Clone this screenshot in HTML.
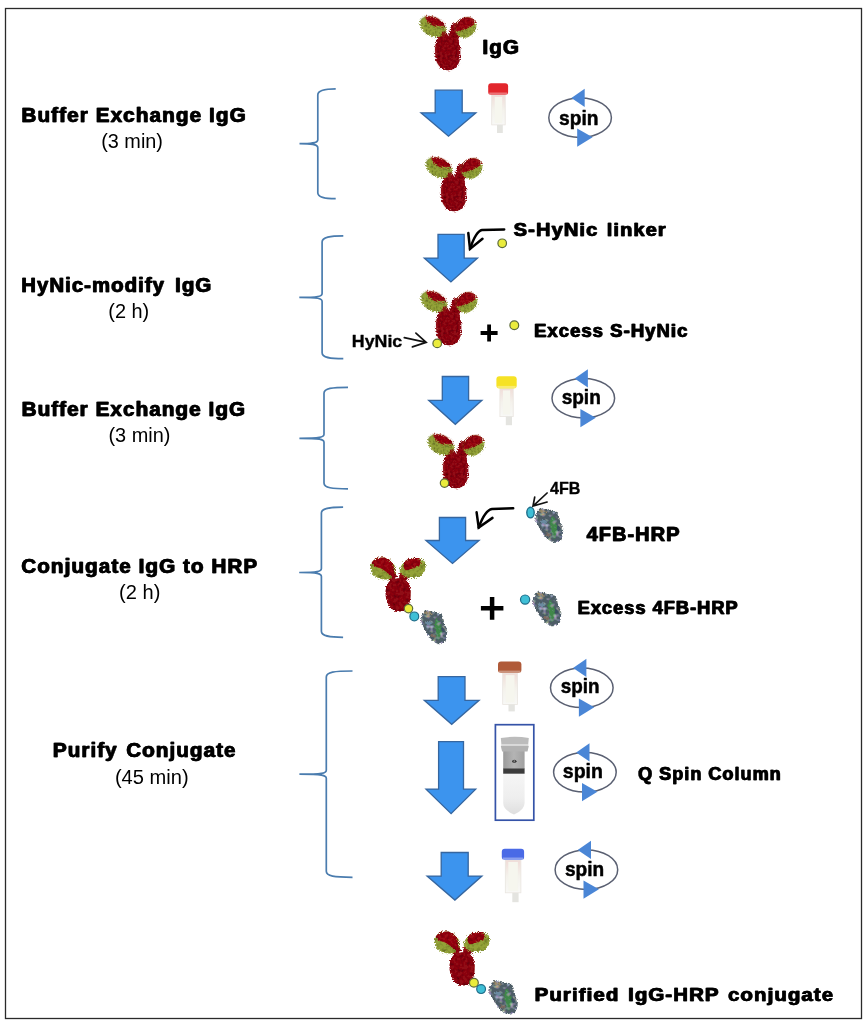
<!DOCTYPE html>
<html><head><meta charset="utf-8"><style>html,body{margin:0;padding:0;background:#fff;}svg{display:block}</style></head>
<body><svg width="868" height="1024" viewBox="0 0 868 1024">
<defs>
<linearGradient id="qwhite" x1="0" y1="0" x2="0" y2="1"><stop offset="0" stop-color="#f6f6f6"/><stop offset="0.6" stop-color="#eeeeee"/><stop offset="1" stop-color="#dedede"/></linearGradient><linearGradient id="qgrey" x1="0" y1="0" x2="1" y2="0"><stop offset="0" stop-color="#9a9a9a"/><stop offset="0.5" stop-color="#b4b4b4"/><stop offset="1" stop-color="#a0a0a0"/></linearGradient>
<linearGradient id="tubeg" x1="0" y1="0" x2="0" y2="1"><stop offset="0" stop-color="#f0dcd8"/><stop offset="0.5" stop-color="#f4f2ec"/><stop offset="1" stop-color="#f8f8f6"/></linearGradient>
<filter id="rough" x="-10%" y="-10%" width="120%" height="120%" filterUnits="objectBoundingBox" primitiveUnits="userSpaceOnUse">
 <feTurbulence type="fractalNoise" baseFrequency="0.07" numOctaves="3" seed="3" result="n"/>
 <feDisplacementMap in="SourceGraphic" in2="n" scale="55" xChannelSelector="R" yChannelSelector="G" result="d"/>
 <feTurbulence type="fractalNoise" baseFrequency="0.03" numOctaves="2" seed="9" result="t"/>
 <feColorMatrix in="t" type="matrix" values="0 0 0 0 0  0 0 0 0 0  0 0 0 0 0  0 0 0 -1.3 0.75" result="c"/>
 <feComposite in="c" in2="d" operator="in" result="tex"/>
 <feMerge><feMergeNode in="d"/><feMergeNode in="tex"/></feMerge>
</filter>
<clipPath id="clL"><ellipse cx="240" cy="221" rx="185" ry="128" transform="rotate(26 240 221)"/></clipPath>
<clipPath id="clR"><ellipse cx="675" cy="232" rx="150" ry="128" transform="rotate(-40 675 232)"/></clipPath>
<g id="ab0">
 <path d="M330,350 C400,318 520,318 568,380 C605,430 612,560 600,650 C587,740 520,805 440,805 C360,800 295,740 276,650 C260,560 263,440 293,390 C303,370 315,358 330,350 Z" fill="#900e15"/>
 <path d="M320,300 C370,290 430,320 470,360 L440,420 C380,410 330,380 300,340 Z" fill="#900e15"/>
 <path d="M480,210 C500,170 560,160 590,200 C615,260 605,340 570,400 L465,415 C450,340 460,260 480,210 Z" fill="#900e15"/>
 <ellipse cx="240" cy="221" rx="185" ry="128" transform="rotate(26 240 221)" fill="#93a237"/>
 <g clip-path="url(#clL)">
  <path d="M110,40 L380,40 L460,240 C400,225 340,215 280,215 C220,210 180,180 150,130 Z" fill="#9a1018"/>
  <path d="M360,300 L460,250 L460,380 L330,380 Z" fill="#900e15"/>
 </g>
 <ellipse cx="675" cy="232" rx="150" ry="128" transform="rotate(-40 675 232)" fill="#93a237"/>
 <g clip-path="url(#clR)">
  <path d="M520,60 L850,60 L820,170 C760,220 680,250 600,280 L520,300 Z" fill="#9a1018"/>
 </g>
</g>
<g id="ab"><use href="#ab0" filter="url(#rough)"/></g>
<g id="abB0">
 <path d="M300,275 C360,265 420,290 435,350 C450,420 440,520 400,570 C370,600 300,600 260,570 C205,520 185,430 205,350 C220,300 260,280 300,275 Z" fill="#900e15"/>
 <path d="M190,150 C240,140 290,190 310,260 L250,300 C220,260 190,210 190,150 Z" fill="#900e15"/>
 <path d="M55,160 C60,100 110,70 170,72 C230,75 270,110 290,160 C300,220 280,275 220,285 C150,290 80,260 60,210 Z" fill="#93a237"/>
 <path d="M65,120 C90,80 140,68 190,75 C240,85 270,120 275,160 C285,200 290,240 270,270 C230,230 180,180 130,170 C95,160 70,140 65,120 Z" fill="#9a1018"/>
 <path d="M330,230 C350,200 400,190 420,220 L410,290 L330,290 Z" fill="#900e15"/>
 <path d="M335,200 C345,130 400,80 470,75 C540,72 585,110 585,160 C585,220 540,265 470,270 C400,272 340,250 335,200 Z" fill="#93a237"/>
 <path d="M375,120 C400,85 450,72 500,78 C530,85 545,110 535,140 C500,170 440,190 390,195 C370,175 365,145 375,120 Z" fill="#9a1018"/>
</g>
<filter id="roughB" x="-10%" y="-10%" width="120%" height="120%" primitiveUnits="userSpaceOnUse">
 <feTurbulence type="fractalNoise" baseFrequency="0.1" numOctaves="2" seed="5" result="n"/>
 <feDisplacementMap in="SourceGraphic" in2="n" scale="42" xChannelSelector="R" yChannelSelector="G" result="d"/>
 <feTurbulence type="fractalNoise" baseFrequency="0.03" numOctaves="2" seed="13" result="t"/>
 <feColorMatrix in="t" type="matrix" values="0 0 0 0 0  0 0 0 0 0  0 0 0 0 0  0 0 0 -1.3 0.75" result="c"/>
 <feComposite in="c" in2="d" operator="in" result="tex"/>
 <feMerge><feMergeNode in="d"/><feMergeNode in="tex"/></feMerge>
</filter>
<g id="abB"><use href="#abB0" filter="url(#roughB)"/></g>
<filter id="rough2" x="-20%" y="-20%" width="140%" height="140%" primitiveUnits="userSpaceOnUse">
 <feTurbulence type="turbulence" baseFrequency="0.7" numOctaves="2" seed="7" result="n"/>
 <feDisplacementMap in="SourceGraphic" in2="n" scale="2.4" xChannelSelector="R" yChannelSelector="G" result="d"/>
 <feTurbulence type="fractalNoise" baseFrequency="0.28" numOctaves="1" seed="21" result="t"/>
 <feColorMatrix in="t" type="matrix" values="0.7 0 0 0 -0.05  0 0.95 0 0 -0.05  0 0 1.05 0 0  2.6 0 0 0 -1.25" result="c"/>
 <feComposite in="c" in2="d" operator="in" result="tex"/>
 <feMerge><feMergeNode in="d"/><feMergeNode in="tex"/></feMerge>
</filter>
<g id="hrp0">
 <path d="M-9,-16.7 C-5,-16 0,-14.5 7.1,-12.6 C9.5,-9 9.5,-6 10.2,-3.3 C11.5,0 13.5,3 13.3,5.5 C13,10 12.5,13 11.3,15.4 C9,17.5 7,18 4.5,18 C1.5,17 0,16 -2.2,14.4 C-4.5,12 -6.5,9.5 -7.9,7.1 C-10,3 -12.5,0 -14.2,-4.3 C-14.5,-6.5 -14,-8 -13.6,-9.5 C-12,-13 -11,-15.5 -9,-16.7 Z" fill="#4d5d66"/>
 <path d="M2,-8 C6,-6 8,0 8,6 C8,10 6,13 4,14 C2,10 1,4 0,-2 Z" fill="#3f8748"/>
 <path d="M-9,-16 C-6,-15 -3,-14 -2,-12 C-5,-11 -8,-12 -10,-13 Z" fill="#9a8a68"/>
 <ellipse cx="-6" cy="-3" rx="3" ry="2" fill="#6a8aa0"/>
 <ellipse cx="-1" cy="10" rx="2.5" ry="2" fill="#7a6a60"/>
 <ellipse cx="9" cy="3" rx="2" ry="3" fill="#3a5060"/>
</g>
<g id="hrp"><use href="#hrp0" filter="url(#rough2)"/></g>
</defs>
<rect x="5.5" y="8.5" width="856" height="1010" fill="none" stroke="#2a2a2a" stroke-width="1.3"/>
<path d="M335.7,88.9 C325.8,88.9 317.8,89.9 317.8,94.9 L317.8,139.7 C317.8,142.7 313.8,143.7 299.5,143.7 C313.8,143.7 317.8,144.7 317.8,147.7 L317.8,192.7 C317.8,197.7 325.8,198.7 335.7,198.7" fill="none" stroke="#4a7cae" stroke-width="1.7"/>
<path d="M343.3,235.9 C330.1,235.9 322.1,236.9 322.1,241.9 L322.1,293.4 C322.1,296.4 318.1,297.4 299.3,297.4 C318.1,297.4 322.1,298.4 322.1,301.4 L322.1,352.7 C322.1,357.7 330.1,358.7 343.3,358.7" fill="none" stroke="#4a7cae" stroke-width="1.7"/>
<path d="M348,387.3 C332,387.3 324,388.3 324,393.3 L324,434.3 C324,437.3 320,438.3 299.4,438.3 C320,438.3 324,439.3 324,442.3 L324,482.9 C324,487.9 332,488.9 348,488.9" fill="none" stroke="#4a7cae" stroke-width="1.7"/>
<path d="M343.1,507.1 C329.4,507.1 321.4,508.1 321.4,513.1 L321.4,568.5 C321.4,571.5 317.4,572.5 299.2,572.5 C317.4,572.5 321.4,573.5 321.4,576.5 L321.4,631.3 C321.4,636.3 329.4,637.3 343.1,637.3" fill="none" stroke="#4a7cae" stroke-width="1.7"/>
<path d="M352.5,671 C334.3,671 326.3,672 326.3,677 L326.3,770.2 C326.3,773.2 322.3,774.2 299.4,774.2 C322.3,774.2 326.3,775.2 326.3,778.2 L326.3,871.3 C326.3,876.3 334.3,877.3 352.5,877.3" fill="none" stroke="#4a7cae" stroke-width="1.7"/>
<polygon points="435.2,90.2 462.2,90.2 462.2,112.8 475.9,112.8 448.5,136.2 421,112.8 435.2,112.8" fill="#3c94ee" stroke="#36669f" stroke-width="1.3" stroke-linejoin="miter"/>
<polygon points="438,234.3 464.2,234.3 464.2,258.1 477.5,258.1 450.9,281.9 424.3,258.1 438,258.1" fill="#3c94ee" stroke="#36669f" stroke-width="1.3" stroke-linejoin="miter"/>
<polygon points="442.3,376.5 468.6,376.5 468.6,400.3 481.9,400.3 455.3,424.3 428.7,400.3 442.3,400.3" fill="#3c94ee" stroke="#36669f" stroke-width="1.3" stroke-linejoin="miter"/>
<polygon points="439.4,517.5 465.6,517.5 465.6,540.5 479.1,540.5 452.5,563.5 425.9,540.5 439.4,540.5" fill="#3c94ee" stroke="#36669f" stroke-width="1.3" stroke-linejoin="miter"/>
<polygon points="438.2,676.7 465,676.7 465,700.3 479.1,700.3 451.7,724.3 424.3,700.3 438.2,700.3" fill="#3c94ee" stroke="#36669f" stroke-width="1.3" stroke-linejoin="miter"/>
<polygon points="438.6,741.6 463.5,741.6 463.5,789.1 475.7,789.1 451.1,813.7 426,789.1 438.6,789.1" fill="#3c94ee" stroke="#36669f" stroke-width="1.3" stroke-linejoin="miter"/>
<polygon points="441.2,852.5 468.2,852.5 468.2,876.1 481.9,876.1 454.9,900.1 427.1,876.1 441.2,876.1" fill="#3c94ee" stroke="#36669f" stroke-width="1.3" stroke-linejoin="miter"/>
<ellipse cx="580.1" cy="117.7" rx="31.3" ry="19.8" fill="none" stroke="#5a6072" stroke-width="1.5"/>
<polygon points="584.7,88.7 584.7,106.9 571.4,97.9" fill="#4a86d6"/>
<polygon points="577.2,128.5 577.2,146.7 592.6,137.2" fill="#4a86d6"/>
<ellipse cx="583.3" cy="398.2" rx="31.3" ry="19.8" fill="none" stroke="#5a6072" stroke-width="1.5"/>
<polygon points="587.9,369.2 587.9,387.4 574.5999999999999,378.4" fill="#4a86d6"/>
<polygon points="580.4,409.0 580.4,427.2 595.8,417.7" fill="#4a86d6"/>
<ellipse cx="581.8" cy="687.8" rx="31.3" ry="19.8" fill="none" stroke="#5a6072" stroke-width="1.5"/>
<polygon points="586.4,658.8 586.4,677.0 573.0999999999999,668.0" fill="#4a86d6"/>
<polygon points="578.9,698.5999999999999 578.9,716.8 594.3,707.3" fill="#4a86d6"/>
<ellipse cx="584.9" cy="772.3" rx="31.3" ry="19.8" fill="none" stroke="#5a6072" stroke-width="1.5"/>
<polygon points="589.5,743.3 589.5,761.5 576.1999999999999,752.5" fill="#4a86d6"/>
<polygon points="582.0,783.0999999999999 582.0,801.3 597.4,791.8" fill="#4a86d6"/>
<ellipse cx="586.4" cy="869.7" rx="31.3" ry="19.8" fill="none" stroke="#5a6072" stroke-width="1.5"/>
<polygon points="591.0,840.7 591.0,858.9000000000001 577.6999999999999,849.9000000000001" fill="#4a86d6"/>
<polygon points="583.5,880.5 583.5,898.7 598.9,889.2" fill="#4a86d6"/>
<rect x="491.7" y="95" width="13.5" height="29.900000000000006" fill="url(#tubeg)" stroke="#e9e5e0" stroke-width="0.8"/>
<rect x="494.7" y="97" width="7.5" height="25.900000000000006" fill="#f6f6ee"/>
<rect x="497" y="124.9" width="5.800000000000011" height="8.099999999999994" fill="#e4e4e0"/>
<rect x="488.2" y="83.3" width="19.900000000000034" height="11.700000000000003" rx="3" fill="#e2262c"/>
<rect x="489.2" y="92.5" width="17.900000000000034" height="2.5" fill="#fff" opacity="0.35"/>
<rect x="499.9" y="388.4" width="13.300000000000068" height="28.200000000000045" fill="url(#tubeg)" stroke="#e9e5e0" stroke-width="0.8"/>
<rect x="502.9" y="390.4" width="7.300000000000068" height="24.200000000000045" fill="#f6f6ee"/>
<rect x="505.8" y="416.6" width="6.199999999999989" height="8.599999999999966" fill="#e4e4e0"/>
<rect x="496.4" y="376.3" width="20.300000000000068" height="12.099999999999966" rx="3" fill="#f6e225"/>
<rect x="497.4" y="385.9" width="18.300000000000068" height="2.5" fill="#fff" opacity="0.35"/>
<rect x="502.7" y="673.1" width="14.800000000000011" height="31.299999999999955" fill="url(#tubeg)" stroke="#e9e5e0" stroke-width="0.8"/>
<rect x="505.7" y="675.1" width="8.800000000000011" height="27.299999999999955" fill="#f6f6ee"/>
<rect x="508.5" y="704.4" width="6.2999999999999545" height="7.0" fill="#e4e4e0"/>
<rect x="498" y="661.4" width="23.399999999999977" height="11.700000000000045" rx="3" fill="#b05a38"/>
<rect x="499" y="670.6" width="21.399999999999977" height="2.5" fill="#fff" opacity="0.35"/>
<rect x="505.3" y="860" width="15.599999999999966" height="32.799999999999955" fill="url(#tubeg)" stroke="#e9e5e0" stroke-width="0.8"/>
<rect x="508.3" y="862" width="9.599999999999966" height="28.799999999999955" fill="#f6f6ee"/>
<rect x="512.3" y="892.8" width="6.300000000000068" height="9.400000000000091" fill="#e4e4e0"/>
<rect x="501.8" y="848.7" width="22.30000000000001" height="11.299999999999955" rx="3" fill="#4a6ae6"/>
<rect x="502.8" y="857.5" width="20.30000000000001" height="2.5" fill="#fff" opacity="0.35"/>
<rect x="495.4" y="724.7" width="38.4" height="95.5" fill="#fff" stroke="#3553a8" stroke-width="1.7"/>
<path d="M503.2,773.5 L524.6,773.5 L524.6,803 Q524.6,810 514,814.5 Q503.2,810 503.2,803 Z" fill="url(#qwhite)"/>
<rect x="503.2" y="751" width="21.4" height="18" fill="url(#qgrey)"/>
<rect x="503.2" y="768.5" width="21.4" height="5.2" fill="#3c3c3c"/>
<path d="M500.8,738 Q514.8,735.5 528.8,738 L528.2,744.5 L501.4,744.5 Z" fill="#bcbcbc"/>
<rect x="501.2" y="744.5" width="27.2" height="1.6" fill="#d8d8d8"/>
<path d="M500.8,746.1 L528.8,746.1 L527.5,751.5 L502.1,751.5 Z" fill="#b2b2b2"/>
<ellipse cx="514.3" cy="761.2" rx="2.2" ry="1.5" fill="#333"/>
<ellipse cx="514.3" cy="761" rx="0.9" ry="0.6" fill="#ccc"/>
<g transform="translate(415,10) scale(0.07491)"><use href="#ab"/></g>
<g transform="translate(421,151) scale(0.07491)"><use href="#ab"/></g>
<g transform="translate(416,285) scale(0.07491)"><use href="#ab"/></g>
<g transform="translate(423,428) scale(0.07491)"><use href="#ab"/></g>
<g transform="translate(365,550) scale(0.10369)"><use href="#abB"/></g>
<g transform="translate(429,924) scale(0.10369)"><use href="#abB"/></g>
<path d="M504.2,229.4 L482,230 Q476,231 470,248.9" fill="none" stroke="#000" stroke-width="2.5" stroke-linecap="round"/>
<path d="M468.3,233 L470,248.9 L482.5,238.8" fill="none" stroke="#000" stroke-width="2.5" stroke-linecap="round" stroke-linejoin="miter"/>
<path d="M513.2,508.2 L492,508.9 Q485,510 478.7,527.5" fill="none" stroke="#000" stroke-width="2.5" stroke-linecap="round"/>
<path d="M476.6,512.3 L478.7,527.5 L492.5,517.9" fill="none" stroke="#000" stroke-width="2.5" stroke-linecap="round"/>
<path d="M404.3,337.7 L426.2,342.3 M415.9,333.1 L426.2,342.3 L412.4,346.9" fill="none" stroke="#111" stroke-width="1.7" stroke-linecap="round"/>
<path d="M547.1,493 L533,506.1 M534.7,497.1 L533,506.1 L547.1,502" fill="none" stroke="#111" stroke-width="1.7" stroke-linecap="round"/>
<circle cx="502.2" cy="243.3" r="4.300000000000001" fill="#eaec3c" stroke="#5c6a3a" stroke-width="1.2"/>
<circle cx="437.2" cy="343.4" r="4.300000000000001" fill="#eaec3c" stroke="#5c6a3a" stroke-width="1.2"/>
<circle cx="514.3" cy="325.3" r="4.4" fill="#eaec3c" stroke="#5c6a3a" stroke-width="1.2"/>
<circle cx="444.5" cy="483.1" r="4.2" fill="#eaec3c" stroke="#5c6a3a" stroke-width="1.2"/>
<circle cx="408.5" cy="608.6" r="4.2" fill="#eaec3c" stroke="#5c6a3a" stroke-width="1.2"/>
<circle cx="473.9" cy="982.7" r="4.4" fill="#eaec3c" stroke="#5c6a3a" stroke-width="1.2"/>
<ellipse cx="530.5" cy="512.6" rx="3.7" ry="5.3" fill="#3fbfd6" stroke="#1f6e8a" stroke-width="1.4"/>
<circle cx="414.3" cy="616.4" r="4.4" fill="#3fbfd6" stroke="#1f6e8a" stroke-width="1.2"/>
<circle cx="525.1" cy="599.6" r="4.6000000000000005" fill="#3fbfd6" stroke="#1f6e8a" stroke-width="1.2"/>
<circle cx="481.1" cy="989.1" r="4.4" fill="#3fbfd6" stroke="#1f6e8a" stroke-width="1.2"/>
<g transform="translate(548.95,523.95) scale(1,1)"><use href="#hrp"/></g>
<g transform="translate(433.65,625.5500000000001) scale(0.95,0.98)"><use href="#hrp"/></g>
<g transform="translate(546.75,607.35) scale(1.02,1.0)"><use href="#hrp"/></g>
<g transform="translate(503.15,996.0500000000001) scale(1.03,0.98)"><use href="#hrp"/></g>
<path d="M480.6,333 H497.6 M489.1,324.5 V341.5" stroke="#000" stroke-width="3.8"/>
<path d="M480.9,608.2 H503.4 M492.1,597 V619.7" stroke="#000" stroke-width="4.5"/>
<text x="482.11" y="53.50" font-family="Liberation Sans" font-weight="bold" font-size="19.40" textLength="37.55" lengthAdjust="spacingAndGlyphs" word-spacing="0" letter-spacing="1.0" fill="#000" stroke="#000" stroke-width="0.45" stroke-linejoin="round">IgG</text>
<text x="482.81" y="53.50" font-family="Liberation Sans" font-weight="bold" font-size="19.40" textLength="37.55" lengthAdjust="spacingAndGlyphs" word-spacing="0" letter-spacing="1.0" fill="#000" stroke="#000" stroke-width="0.45" stroke-linejoin="round">IgG</text>
<text x="21.11" y="121.70" font-family="Liberation Sans" font-weight="bold" font-size="19.30" textLength="225.31" lengthAdjust="spacingAndGlyphs" word-spacing="0" letter-spacing="1.0" fill="#000" stroke="#000" stroke-width="0.45" stroke-linejoin="round">Buffer Exchange IgG</text>
<text x="21.81" y="121.70" font-family="Liberation Sans" font-weight="bold" font-size="19.30" textLength="225.31" lengthAdjust="spacingAndGlyphs" word-spacing="0" letter-spacing="1.0" fill="#000" stroke="#000" stroke-width="0.45" stroke-linejoin="round">Buffer Exchange IgG</text>
<text x="20.91" y="291.90" font-family="Liberation Sans" font-weight="bold" font-size="19.30" textLength="190.92" lengthAdjust="spacingAndGlyphs" word-spacing="3.2" letter-spacing="1.0" fill="#000" stroke="#000" stroke-width="0.45" stroke-linejoin="round">HyNic-modify IgG</text>
<text x="21.61" y="291.90" font-family="Liberation Sans" font-weight="bold" font-size="19.30" textLength="190.92" lengthAdjust="spacingAndGlyphs" word-spacing="3.2" letter-spacing="1.0" fill="#000" stroke="#000" stroke-width="0.45" stroke-linejoin="round">HyNic-modify IgG</text>
<text x="21.23" y="416.20" font-family="Liberation Sans" font-weight="bold" font-size="19.30" textLength="224.59" lengthAdjust="spacingAndGlyphs" word-spacing="0" letter-spacing="1.0" fill="#000" stroke="#000" stroke-width="0.45" stroke-linejoin="round">Buffer Exchange IgG</text>
<text x="21.93" y="416.20" font-family="Liberation Sans" font-weight="bold" font-size="19.30" textLength="224.59" lengthAdjust="spacingAndGlyphs" word-spacing="0" letter-spacing="1.0" fill="#000" stroke="#000" stroke-width="0.45" stroke-linejoin="round">Buffer Exchange IgG</text>
<text x="20.93" y="572.70" font-family="Liberation Sans" font-weight="bold" font-size="19.30" textLength="236.92" lengthAdjust="spacingAndGlyphs" word-spacing="0" letter-spacing="1.0" fill="#000" stroke="#000" stroke-width="0.45" stroke-linejoin="round">Conjugate IgG to HRP</text>
<text x="21.63" y="572.70" font-family="Liberation Sans" font-weight="bold" font-size="19.30" textLength="236.92" lengthAdjust="spacingAndGlyphs" word-spacing="0" letter-spacing="1.0" fill="#000" stroke="#000" stroke-width="0.45" stroke-linejoin="round">Conjugate IgG to HRP</text>
<text x="52.61" y="756.90" font-family="Liberation Sans" font-weight="bold" font-size="19.30" textLength="183.62" lengthAdjust="spacingAndGlyphs" word-spacing="1.6" letter-spacing="1.0" fill="#000" stroke="#000" stroke-width="0.45" stroke-linejoin="round">Purify Conjugate</text>
<text x="53.31" y="756.90" font-family="Liberation Sans" font-weight="bold" font-size="19.30" textLength="183.62" lengthAdjust="spacingAndGlyphs" word-spacing="1.6" letter-spacing="1.0" fill="#000" stroke="#000" stroke-width="0.45" stroke-linejoin="round">Purify Conjugate</text>
<text x="513.39" y="235.60" font-family="Liberation Sans" font-weight="bold" font-size="18.53" textLength="153.17" lengthAdjust="spacingAndGlyphs" word-spacing="1.6" letter-spacing="1.0" fill="#000" stroke="#000" stroke-width="0.45" stroke-linejoin="round">S-HyNic linker</text>
<text x="514.09" y="235.60" font-family="Liberation Sans" font-weight="bold" font-size="18.53" textLength="153.17" lengthAdjust="spacingAndGlyphs" word-spacing="1.6" letter-spacing="1.0" fill="#000" stroke="#000" stroke-width="0.45" stroke-linejoin="round">S-HyNic linker</text>
<text x="533.70" y="336.50" font-family="Liberation Sans" font-weight="bold" font-size="17.81" textLength="154.36" lengthAdjust="spacingAndGlyphs" word-spacing="0" letter-spacing="1.0" fill="#000" stroke="#000" stroke-width="0.45" stroke-linejoin="round">Excess S-HyNic</text>
<text x="534.40" y="336.50" font-family="Liberation Sans" font-weight="bold" font-size="17.81" textLength="154.36" lengthAdjust="spacingAndGlyphs" word-spacing="0" letter-spacing="1.0" fill="#000" stroke="#000" stroke-width="0.45" stroke-linejoin="round">Excess S-HyNic</text>
<text x="586.25" y="540.90" font-family="Liberation Sans" font-weight="bold" font-size="19.55" textLength="93.94" lengthAdjust="spacingAndGlyphs" word-spacing="0" letter-spacing="1.0" fill="#000" stroke="#000" stroke-width="0.45" stroke-linejoin="round">4FB-HRP</text>
<text x="586.95" y="540.90" font-family="Liberation Sans" font-weight="bold" font-size="19.55" textLength="93.94" lengthAdjust="spacingAndGlyphs" word-spacing="0" letter-spacing="1.0" fill="#000" stroke="#000" stroke-width="0.45" stroke-linejoin="round">4FB-HRP</text>
<text x="577.29" y="614.00" font-family="Liberation Sans" font-weight="bold" font-size="18.10" textLength="161.01" lengthAdjust="spacingAndGlyphs" word-spacing="0" letter-spacing="1.0" fill="#000" stroke="#000" stroke-width="0.45" stroke-linejoin="round">Excess 4FB-HRP</text>
<text x="577.99" y="614.00" font-family="Liberation Sans" font-weight="bold" font-size="18.10" textLength="161.01" lengthAdjust="spacingAndGlyphs" word-spacing="0" letter-spacing="1.0" fill="#000" stroke="#000" stroke-width="0.45" stroke-linejoin="round">Excess 4FB-HRP</text>
<text x="637.72" y="780.40" font-family="Liberation Sans" font-weight="bold" font-size="18.10" textLength="143.66" lengthAdjust="spacingAndGlyphs" word-spacing="0" letter-spacing="1.0" fill="#000" stroke="#000" stroke-width="0.45" stroke-linejoin="round">Q Spin Column</text>
<text x="638.42" y="780.40" font-family="Liberation Sans" font-weight="bold" font-size="18.10" textLength="143.66" lengthAdjust="spacingAndGlyphs" word-spacing="0" letter-spacing="1.0" fill="#000" stroke="#000" stroke-width="0.45" stroke-linejoin="round">Q Spin Column</text>
<text x="534.33" y="1000.70" font-family="Liberation Sans" font-weight="bold" font-size="18.82" textLength="299.54" lengthAdjust="spacingAndGlyphs" word-spacing="1.8" letter-spacing="1.0" fill="#000" stroke="#000" stroke-width="0.45" stroke-linejoin="round">Purified IgG-HRP conjugate</text>
<text x="535.03" y="1000.70" font-family="Liberation Sans" font-weight="bold" font-size="18.82" textLength="299.54" lengthAdjust="spacingAndGlyphs" word-spacing="1.8" letter-spacing="1.0" fill="#000" stroke="#000" stroke-width="0.45" stroke-linejoin="round">Purified IgG-HRP conjugate</text>
<text x="101.21" y="147.60" font-family="Liberation Sans" font-weight="normal" font-size="19.60" textLength="61.74" lengthAdjust="spacingAndGlyphs" word-spacing="0" letter-spacing="0" fill="#000">(3 min)</text>
<text x="108.30" y="317.60" font-family="Liberation Sans" font-weight="normal" font-size="19.60" textLength="40.96" lengthAdjust="spacingAndGlyphs" word-spacing="0" letter-spacing="0" fill="#000">(2 h)</text>
<text x="108.50" y="441.70" font-family="Liberation Sans" font-weight="normal" font-size="19.60" textLength="61.90" lengthAdjust="spacingAndGlyphs" word-spacing="0" letter-spacing="0" fill="#000">(3 min)</text>
<text x="119.07" y="598.50" font-family="Liberation Sans" font-weight="normal" font-size="19.60" textLength="41.30" lengthAdjust="spacingAndGlyphs" word-spacing="0" letter-spacing="0" fill="#000">(2 h)</text>
<text x="114.91" y="783.60" font-family="Liberation Sans" font-weight="normal" font-size="19.60" textLength="73.71" lengthAdjust="spacingAndGlyphs" word-spacing="0" letter-spacing="0" fill="#000">(45 min)</text>
<text x="351.87" y="346.90" font-family="Liberation Sans" font-weight="bold" font-size="17.08" textLength="50.41" lengthAdjust="spacingAndGlyphs" word-spacing="0" letter-spacing="0" fill="#000" stroke="#000" stroke-width="0.35" stroke-linejoin="round">HyNic</text>
<text x="550.00" y="493.80" font-family="Liberation Sans" font-weight="bold" font-size="17.22" textLength="30.41" lengthAdjust="spacingAndGlyphs" word-spacing="0" letter-spacing="0" fill="#000" stroke="#000" stroke-width="0.35" stroke-linejoin="round">4FB</text>
<text x="559.11" y="124.60" font-family="Liberation Sans" font-weight="bold" font-size="20.20" textLength="39.47" lengthAdjust="spacingAndGlyphs" word-spacing="0" letter-spacing="0" fill="#000" stroke="#000" stroke-width="0.5" stroke-linejoin="round">spin</text>
<text x="561.63" y="404.40" font-family="Liberation Sans" font-weight="bold" font-size="20.20" textLength="39.19" lengthAdjust="spacingAndGlyphs" word-spacing="0" letter-spacing="0" fill="#000" stroke="#000" stroke-width="0.5" stroke-linejoin="round">spin</text>
<text x="560.65" y="693.00" font-family="Liberation Sans" font-weight="bold" font-size="20.20" textLength="38.78" lengthAdjust="spacingAndGlyphs" word-spacing="0" letter-spacing="0" fill="#000" stroke="#000" stroke-width="0.5" stroke-linejoin="round">spin</text>
<text x="562.87" y="778.00" font-family="Liberation Sans" font-weight="bold" font-size="20.20" textLength="40.08" lengthAdjust="spacingAndGlyphs" word-spacing="0" letter-spacing="0" fill="#000" stroke="#000" stroke-width="0.5" stroke-linejoin="round">spin</text>
<text x="564.90" y="875.60" font-family="Liberation Sans" font-weight="bold" font-size="20.20" textLength="39.19" lengthAdjust="spacingAndGlyphs" word-spacing="0" letter-spacing="0" fill="#000" stroke="#000" stroke-width="0.5" stroke-linejoin="round">spin</text>
</svg></body></html>
